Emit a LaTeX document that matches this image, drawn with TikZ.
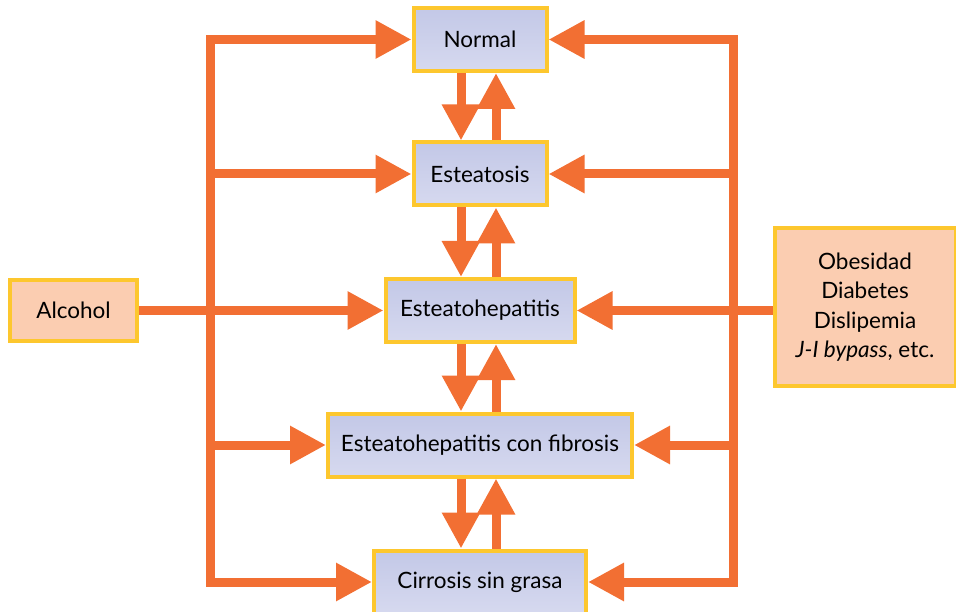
\documentclass[tikz,border=0pt]{standalone}
\usepackage{fontspec}
\setmainfont{Lato}
\usetikzlibrary{arrows.meta,calc}
\definecolor{org}{HTML}{F26F33}
\definecolor{ylw}{HTML}{FDC72E}
\definecolor{blutop}{HTML}{C3C8E7}
\definecolor{blubot}{HTML}{D6D9EF}
\definecolor{peach}{HTML}{FBCDB1}
\begin{document}
\begin{tikzpicture}[x=1pt,y=-1pt,
  box/.style={draw=ylw,line width=4pt,top color=blutop,bottom color=blubot,minimum height=63pt,inner sep=0pt,font=\fontsize{22.5}{27}\selectfont},
  src/.style={draw=ylw,line width=4pt,fill=peach,inner sep=0pt,font=\fontsize{22.5}{29.5}\selectfont,align=center},
  bus/.style={draw=org,line width=9pt,line cap=rect},
  arr/.style={draw=org,line width=9pt,-{Triangle[length=36pt,width=36pt]}}]
\useasboundingbox (0,0) rectangle (956,612);
\node[box,minimum width=133pt] (n) at (480,39.5) {Normal};
\node[box,minimum width=133pt] (e) at (480,174) {Esteatosis};
\node[box,minimum width=189pt] (h) at (480,310.5) {Esteatohepatitis};
\node[box,minimum width=304pt] (f) at (480,445) {Esteatohepatitis con fibrosis};
\node[box,minimum width=212pt] (c) at (480,582) {Cirrosis sin grasa};
\node[src,minimum width=127pt,minimum height=61pt] (a) at (73.5,310.5) {Alcohol};
\node[src,minimum width=181pt,minimum height=158pt] (o) at (865,307) {Obesidad\\Diabetes\\Dislipemia\\\textit{J-I bypass}, etc.};
\coordinate (lt) at (210,40);
\coordinate (rt) at (733,40);
% buses
\draw[bus] (n.west -| lt) -- (c.west -| lt);
\draw[bus] (n.east -| rt) -- (c.east -| rt);
% horizontal arrows
\foreach \t in {n,e,f,c} {\draw[arr] (\t.west -| lt) -- (\t.west);}
\foreach \t in {n,e,f,c} {\draw[arr] (\t.east -| rt) -- (\t.east);}
\draw[arr] (a.east) -- (h.west);
\draw[arr] (o.west |- h.east) -- (h.east);
% vertical arrows
\foreach \u/\d in {n/e,e/h,h/f,f/c} {
  \draw[arr] ([xshift=-19pt]\u.south) -- ([xshift=-19pt]\d.north);
  \draw[arr] ([xshift=16pt]\d.north) -- ([xshift=16pt]\u.south);
}
\end{tikzpicture}
\end{document}
